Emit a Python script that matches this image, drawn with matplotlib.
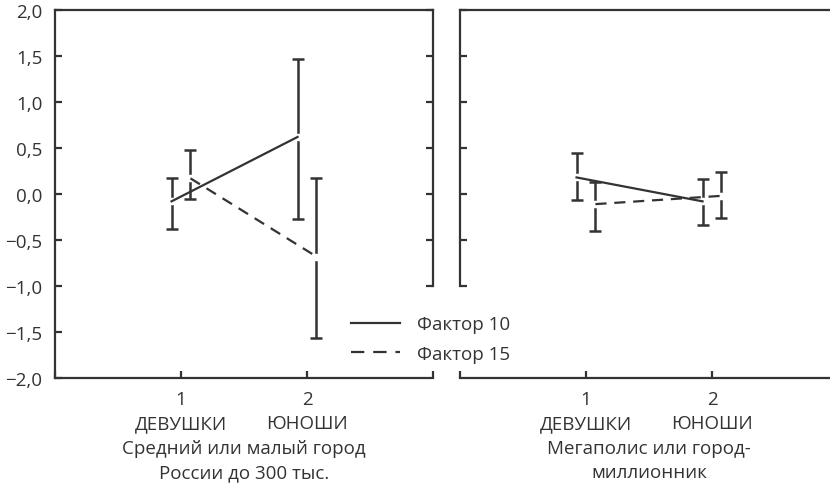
import matplotlib
matplotlib.use("Agg")
import matplotlib.pyplot as plt
import matplotlib.transforms as mtransforms
from matplotlib.lines import Line2D

plt.rcParams['font.family'] = ['Open Sans', 'DejaVu Sans']
plt.rcParams['axes.unicode_minus'] = True

groups = [1, 2]
group_labels = ["ДЕВУШКИ", "ЮНОШИ"]
panel_title_lines = [["Средний или малый город", "России до 300 тыс."],
                     ["Мегаполис или город-", "миллионник"]]
series_names = ["Фактор 10", "Фактор 15"]

# panel 1 (small city)
f10_mean_p1 = [-0.08, 0.62]
f10_low_p1 = [-0.38, -0.27]
f10_high_p1 = [0.17, 1.47]
f15_mean_p1 = [0.17, -0.68]
f15_low_p1 = [-0.05, -1.57]
f15_high_p1 = [0.48, 0.17]

# panel 2 (megapolis)
f10_mean_p2 = [0.18, -0.08]
f10_low_p2 = [-0.06, -0.34]
f10_high_p2 = [0.45, 0.16]
f15_mean_p2 = [-0.11, -0.02]
f15_low_p2 = [-0.40, -0.26]
f15_high_p2 = [0.13, 0.24]

yticks = [-2.0, -1.5, -1.0, -0.5, 0.0, 0.5, 1.0, 1.5, 2.0]
ytick_labels = ["−2,0", "−1,5", "−1,0", "−0,5", "0,0", "0,5", "1,0", "1,5", "2,0"]

color = "#333333"
lw = 1.6
elw = 1.8
fs = 13.5
dash = (0, (5, 3.5))

fig = plt.figure(figsize=(8.3, 4.85), dpi=100)
W, H = 830, 485

def add_ax(x0, x1, y0, y1):
    return fig.add_axes([x0 / W, 1 - y1 / H, (x1 - x0) / W, (y1 - y0) / H])

ax1 = add_ax(55, 433, 11, 379)
ax2 = add_ax(460, 838, 11, 379)

offset = 0.075
panels = [
    (ax1, (f10_mean_p1, f10_low_p1, f10_high_p1), (f15_mean_p1, f15_low_p1, f15_high_p1)),
    (ax2, (f10_mean_p2, f10_low_p2, f10_high_p2), (f15_mean_p2, f15_low_p2, f15_high_p2)),
]

for i, (ax, s10, s15) in enumerate(panels):
    for (mean, low, high), off, ls in [(s10, -offset, '-'), (s15, offset, dash)]:
        xs = [g + off for g in groups]
        yerr = [[m - l for m, l in zip(mean, low)], [h - m for h, m in zip(high, mean)]]
        ax.errorbar(xs, mean, yerr=yerr, fmt='none', ecolor=color, elinewidth=elw,
                    capsize=4.5, capthick=elw, zorder=2)
        ax.plot(xs, mean, linestyle='none', marker='o', markersize=5.5,
                markerfacecolor='white', markeredgecolor='none', zorder=2.5)
        ax.plot(xs, mean, color=color, lw=lw, linestyle=ls, zorder=3)
    ax.set_xlim(0, 3)
    ax.set_ylim(-2, 2)
    ax.set_xticks(groups)
    ax.set_xticklabels([str(g) for g in groups], fontsize=fs, color=color)
    ax.set_xticks([0, 3], minor=True)
    ax.tick_params(axis='x', which='both', direction='in', length=5, width=lw,
                   colors=color, pad=9)
    ax.set_yticks(yticks)
    for s in ax.spines.values():
        s.set_color(color)
        s.set_linewidth(lw)
    if i == 0:
        ax.spines['right'].set_bounds(-1.0, 2.0)
        ax.set_yticklabels(ytick_labels, fontsize=fs, color=color)
        ax.tick_params(axis='y', which='both', direction='in', length=5, width=lw,
                       colors=color, left=True, right=True, labelleft=True,
                       labelright=False, pad=9)
    else:
        ax.spines['left'].set_bounds(-1.0, 2.0)
        ax.spines['right'].set_visible(False)
        ax.tick_params(axis='y', which='both', direction='in', length=5, width=lw,
                       colors=color, left=True, right=False, labelleft=False)
    trans = mtransforms.blended_transform_factory(ax.transData, fig.transFigure)
    for g, lab in zip(groups, group_labels):
        ax.text(g, 1 - 424 / H, lab, transform=trans, ha='center', va='center',
                fontsize=fs, color=color)
    for k, line in enumerate(panel_title_lines[i]):
        ax.text(1.5, 1 - (449 + 24 * k) / H, line, transform=trans, ha='center',
                va='center', fontsize=fs, color=color)

# hide ticks below -1 on inner spines
for tk, val in zip(ax1.yaxis.get_major_ticks(), yticks):
    if val < -1.0:
        tk.tick2line.set_visible(False)
for tk, val in zip(ax2.yaxis.get_major_ticks(), yticks):
    if val < -1.0:
        tk.tick1line.set_visible(False)

handles = [Line2D([], [], color=color, lw=lw, linestyle='-'),
           Line2D([], [], color=color, lw=lw, linestyle=(0, (6, 4)))]
fig.legend(handles, series_names, loc='center left',
           bbox_to_anchor=(351 / W, 1 - 340 / H), frameon=False, fontsize=fs,
           handlelength=2.6, handletextpad=0.9, labelspacing=0.62, labelcolor=color,
           borderpad=0, borderaxespad=0)

fig.savefig("out.png", dpi=100)
